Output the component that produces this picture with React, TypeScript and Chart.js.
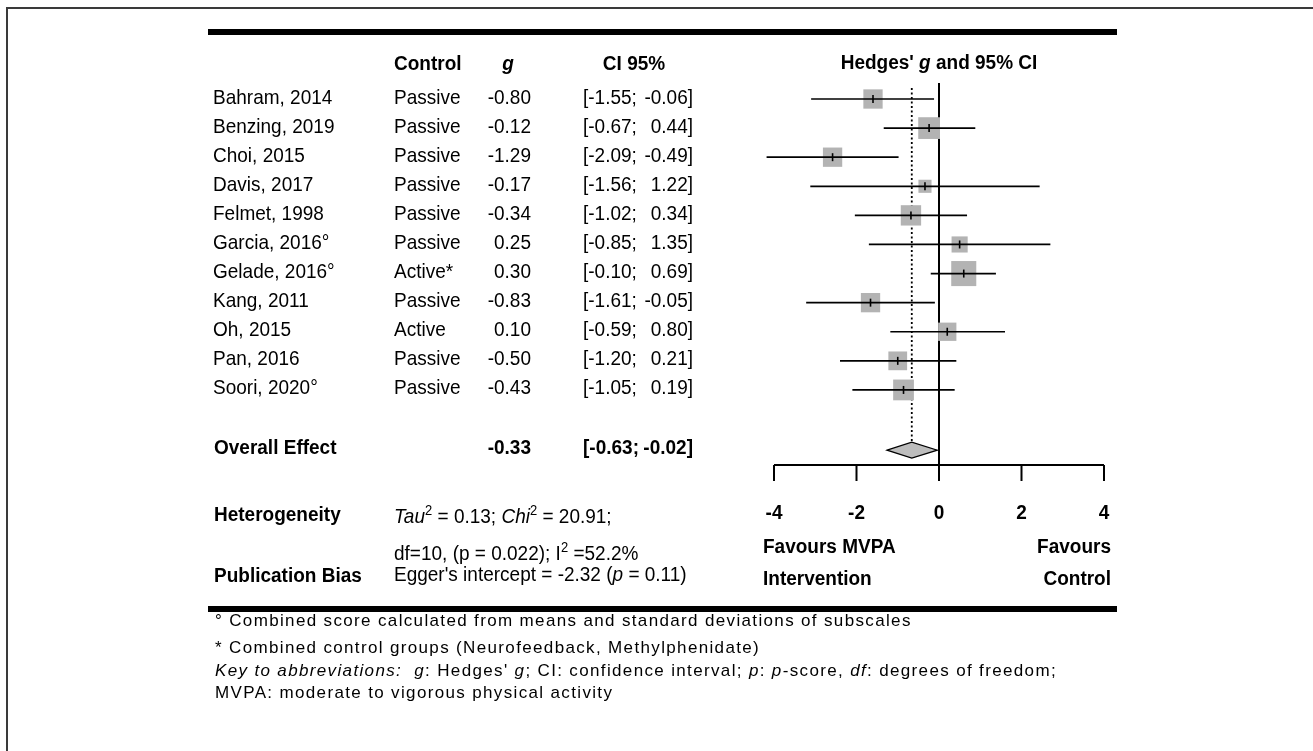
import React, { useEffect, useRef } from 'react';
import { Chart, registerables } from 'chart.js';

Chart.register(...registerables);

// ---------- DATA ----------
const studies = [
  'Bahram, 2014', 'Benzing, 2019', 'Choi, 2015', 'Davis, 2017', 'Felmet, 1998',
  'Garcia, 2016°', 'Gelade, 2016°', 'Kang, 2011', 'Oh, 2015', 'Pan, 2016', 'Soori, 2020°',
];
const controls = [
  'Passive', 'Passive', 'Passive', 'Passive', 'Passive',
  'Passive', 'Active*', 'Passive', 'Active', 'Passive', 'Passive',
];
const effects = [-0.80, -0.12, -1.29, -0.17, -0.34, 0.25, 0.30, -0.83, 0.10, -0.50, -0.43];
const ciLow = [-1.55, -0.67, -2.09, -1.56, -1.02, -0.85, -0.10, -1.61, -0.59, -1.20, -1.05];
const ciHigh = [-0.06, 0.44, -0.49, 1.22, 0.34, 1.35, 0.69, -0.05, 0.80, 0.21, 0.19];
// relative study weights (%)
const weights = [8.9, 11.3, 8.9, 4.1, 9.9, 6.2, 15.0, 8.9, 8.0, 8.4, 10.3];

const overallLabel = 'Overall Effect';
const overallEffect = -0.33;
const overallLow = -0.63;
const overallHigh = -0.02;

const tickLabels = ['-4', '-2', '0', '2', '4'];

const footerLines = [
  '° Combined score calculated from means and standard deviations of subscales',
  '* Combined control groups (Neurofeedback, Methylphenidate)',
  'MVPA: moderate to vigorous physical activity',
];

// ---------- LAYOUT ----------
const W = 1313;
const H = 751;
const Y_MIN = -0.55;
const Y_MAX = 12.58;
const OVERALL_ROW = 12.07;
const FONT = '"Liberation Sans", Arial, sans-serif';
const BOX_SCALE = 6.47;
const SY = 1.1;

type Seg = { t: string; b?: boolean; i?: boolean; sup?: boolean };

function segFont(s: Seg, size: number) {
  const sz = s.sup ? Math.round(size * 0.68) : size;
  return `${s.i ? 'italic ' : ''}${s.b ? 'bold ' : ''}${sz}px ${FONT}`;
}

function drawRich(
  ctx: CanvasRenderingContext2D,
  segs: Seg[],
  x: number,
  y: number,
  size: number,
  align: 'left' | 'center' | 'right' = 'left',
  spacing = 0,
  sy = SY,
) {
  ctx.save();
  (ctx as any).letterSpacing = `${spacing}px`;
  ctx.textAlign = 'left';
  ctx.textBaseline = 'alphabetic';
  ctx.fillStyle = '#000';
  let total = 0;
  const widths = segs.map((s) => {
    ctx.font = segFont(s, size);
    const w = ctx.measureText(s.t).width;
    total += w;
    return w;
  });
  let cx = 0;
  if (align === 'center') cx = -total / 2;
  if (align === 'right') cx = -total;
  ctx.translate(x, y);
  ctx.scale(1, sy);
  segs.forEach((s, k) => {
    ctx.font = segFont(s, size);
    ctx.fillText(s.t, cx, s.sup ? -size * 0.4 : 0);
    cx += widths[k];
  });
  ctx.restore();
}

function txt(
  ctx: CanvasRenderingContext2D,
  t: string,
  x: number,
  y: number,
  opts: { b?: boolean; i?: boolean; align?: 'left' | 'center' | 'right'; size?: number; spacing?: number; sy?: number } = {},
) {
  drawRich(ctx, [{ t, b: opts.b, i: opts.i }], x, y, opts.size ?? 19, opts.align ?? 'left', opts.spacing ?? 0, opts.sy ?? SY);
}

const forestPlugin = {
  id: 'forestExtras',
  afterDatasetsDraw(chart: any) {
    const ctx: CanvasRenderingContext2D = chart.ctx;
    const xs = chart.scales.x;
    const ys = chart.scales.y;
    // diamond for overall effect
    const yc = ys.getPixelForValue(OVERALL_ROW);
    const h = 8;
    ctx.save();
    ctx.beginPath();
    ctx.moveTo(xs.getPixelForValue(overallLow), yc);
    ctx.lineTo(xs.getPixelForValue(overallEffect), yc - h);
    ctx.lineTo(xs.getPixelForValue(overallHigh), yc);
    ctx.lineTo(xs.getPixelForValue(overallEffect), yc + h);
    ctx.closePath();
    ctx.fillStyle = '#bdbdbd';
    ctx.fill();
    ctx.lineWidth = 1.2;
    ctx.strokeStyle = '#000';
    ctx.stroke();
    ctx.restore();

    // x axis
    const yAxis = chart.chartArea.bottom;
    ctx.save();
    ctx.strokeStyle = '#000';
    ctx.lineWidth = 2;
    ctx.beginPath();
    ctx.moveTo(xs.getPixelForValue(xs.min), yAxis);
    ctx.lineTo(xs.getPixelForValue(xs.max), yAxis);
    ctx.stroke();
    xs.ticks.forEach((tk: any, k: number) => {
      const px = xs.getPixelForValue(tk.value);
      ctx.beginPath();
      ctx.moveTo(px, yAxis);
      ctx.lineTo(px, yAxis + 16);
      ctx.stroke();
      txt(ctx, tickLabels[k] ?? String(tk.value), px, 519, { b: true, align: 'center' });
    });
    ctx.restore();
  },
  afterDraw(chart: any) {
    const ctx: CanvasRenderingContext2D = chart.ctx;
    const ys = chart.scales.y;
    const xs = chart.scales.x;

    // outer frame
    ctx.save();
    ctx.strokeStyle = '#3a3a3a';
    ctx.lineWidth = 2;
    ctx.beginPath();
    ctx.moveTo(7, H);
    ctx.lineTo(7, 8);
    ctx.lineTo(W, 8);
    ctx.stroke();

    // horizontal rules
    ctx.strokeStyle = '#000';
    ctx.lineWidth = 6;
    ctx.beginPath();
    ctx.moveTo(208, 32);
    ctx.lineTo(1117, 32);
    ctx.moveTo(208, 609);
    ctx.lineTo(1117, 609);
    ctx.stroke();
    ctx.restore();

    // headers
    txt(ctx, 'Control', 394, 70, { b: true });
    txt(ctx, 'g', 508, 70, { b: true, i: true, align: 'center' });
    txt(ctx, 'CI 95%', 634, 70, { b: true, align: 'center' });
    drawRich(
      ctx,
      [{ t: "Hedges' ", b: true }, { t: 'g', b: true, i: true }, { t: ' and 95% CI', b: true }],
      xs.getPixelForValue(0),
      69,
      19,
      'center',
    );

    // study rows
    studies.forEach((s, i) => {
      const by = ys.getPixelForValue(i) + 4.5;
      txt(ctx, s, 213, by);
      txt(ctx, controls[i], 394, by);
      txt(ctx, effects[i].toFixed(2), 531, by, { align: 'right' });
      txt(ctx, `[${ciLow[i].toFixed(2)};`, 583, by);
      txt(ctx, `${ciHigh[i].toFixed(2)}]`, 693, by, { align: 'right' });
    });

    // overall row
    const oy = ys.getPixelForValue(OVERALL_ROW) + 3.5;
    txt(ctx, overallLabel, 214, oy, { b: true });
    txt(ctx, overallEffect.toFixed(2), 531, oy, { b: true, align: 'right' });
    txt(ctx, `[${overallLow.toFixed(2)};`, 583, oy, { b: true });
    txt(ctx, `${overallHigh.toFixed(2)}]`, 693, oy, { b: true, align: 'right' });

    // heterogeneity / bias
    txt(ctx, 'Heterogeneity', 214, 521, { b: true });
    drawRich(
      ctx,
      [
        { t: 'Tau', i: true }, { t: '2', sup: true }, { t: ' = 0.13; ' },
        { t: 'Chi', i: true }, { t: '2', sup: true }, { t: ' = 20.91;' },
      ],
      394, 523, 19,
    );
    drawRich(ctx, [{ t: 'df=10, (p = 0.022); I' }, { t: '2', sup: true }, { t: ' =52.2%' }], 394, 560, 19);
    txt(ctx, 'Publication Bias', 214, 581.5, { b: true });
    drawRich(
      ctx,
      [{ t: "Egger's intercept = -2.32 (" }, { t: 'p', i: true }, { t: ' = 0.11)' }],
      394, 581, 19,
    );

    // favours labels
    txt(ctx, 'Favours MVPA', 763, 553, { b: true });
    txt(ctx, 'Intervention', 763, 585, { b: true });
    txt(ctx, 'Favours', 1111, 553, { b: true, align: 'right' });
    txt(ctx, 'Control', 1111, 585, { b: true, align: 'right' });

    // footer
    const fs = 17;
    const sp = 1.35;
    const fsy = 1.0;
    txt(ctx, footerLines[0], 215, 626, { size: fs, spacing: sp, sy: fsy });
    txt(ctx, footerLines[1], 215, 652.5, { size: fs, spacing: sp, sy: fsy });
    drawRich(
      ctx,
      [
        { t: 'Key to abbreviations:', i: true }, { t: '  ' }, { t: 'g', i: true },
        { t: ": Hedges' " }, { t: 'g', i: true }, { t: '; CI: confidence interval; ' },
        { t: 'p', i: true }, { t: ': ' }, { t: 'p', i: true }, { t: '-score, ' },
        { t: 'df', i: true }, { t: ': degrees of freedom;' },
      ],
      215, 676, fs, 'left', sp, fsy,
    );
    txt(ctx, footerLines[2], 215, 697.5, { size: fs, spacing: sp, sy: fsy });
  },
};

export default function App() {
  const ref = useRef<HTMLCanvasElement | null>(null);

  useEffect(() => {
    if (!ref.current) return;
    const ciDatasets = studies.map((s, i) => ({
      label: s,
      data: [{ x: ciLow[i], y: i }, { x: ciHigh[i], y: i }],
      showLine: true,
      pointRadius: 0,
      borderColor: '#000',
      borderWidth: 1.7,
      clip: false as any,
      order: 2,
    }));
    const chart = new Chart(ref.current, {
      type: 'scatter',
      data: {
        datasets: [
          {
            label: 'centre',
            data: effects.map((g, i) => ({ x: g, y: i })),
            pointStyle: 'line',
            rotation: 90,
            pointRadius: 4,
            borderColor: '#000',
            borderWidth: 1.6,
            backgroundColor: '#000',
            order: 0,
          } as any,
          ...ciDatasets,
          {
            label: 'boxes',
            data: effects.map((g, i) => ({ x: g, y: i })),
            pointStyle: 'rect',
            pointRadius: weights.map((w) => (BOX_SCALE * Math.sqrt(w)) / Math.SQRT2),
            backgroundColor: '#b3b3b3',
            borderWidth: 0,
            order: 3,
          } as any,
          {
            label: 'zero',
            data: [{ x: 0, y: Y_MIN }, { x: 0, y: Y_MAX }],
            showLine: true,
            pointRadius: 0,
            borderColor: '#000',
            borderWidth: 2,
            order: 4,
          },
          {
            label: 'pooled',
            data: [{ x: overallEffect, y: Y_MIN + 0.17 }, { x: overallEffect, y: OVERALL_ROW - 0.28 }],
            showLine: true,
            pointRadius: 0,
            borderColor: '#000',
            borderWidth: 1.8,
            borderDash: [2, 2.5],
            order: 5,
          },
        ],
      },
      options: {
        responsive: false,
        animation: false,
        events: [],
        layout: { padding: { left: 774, right: W - 1104, top: 83, bottom: H - 465 } },
        scales: {
          x: { type: 'linear', min: -2, max: 2, ticks: { stepSize: 1 }, display: false },
          y: { type: 'linear', min: Y_MIN, max: Y_MAX, reverse: true, display: false },
        },
        plugins: {
          legend: { display: false },
          tooltip: { enabled: false },
        },
      },
      plugins: [forestPlugin],
    });
    return () => chart.destroy();
  }, []);

  return (
    <div style={{ position: 'absolute', left: 0, top: 0, width: W, height: H, background: '#fff' }}>
      <canvas ref={ref} width={W} height={H} style={{ display: 'block', width: W, height: H }} />
    </div>
  );
}
